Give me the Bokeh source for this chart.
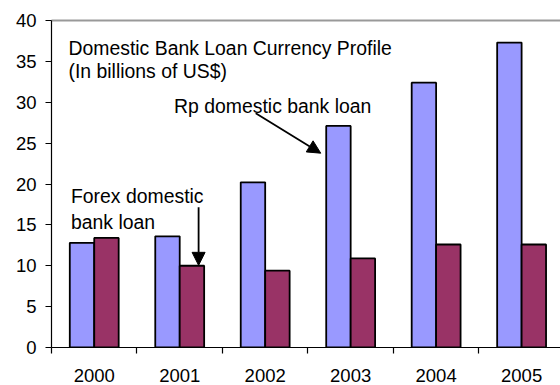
from bokeh.plotting import figure
from bokeh.models import (ColumnDataSource, FixedTicker, LinearAxis, Label, Arrow,
                          NormalHead, Range1d)
from bokeh.embed import file_html
from bokeh.resources import INLINE

years = ["2000", "2001", "2002", "2003", "2004", "2005"]
rp_loan = [12.8, 13.6, 20.2, 27.1, 32.4, 37.3]
forex_loan = [13.4, 10.0, 9.4, 10.9, 12.6, 12.6]
y_ticks = [0, 5, 10, 15, 20, 25, 30, 35, 40]

FONT = "Liberation Sans"
FS = "18.5px"
FS_NOTE = "19.4px"

idx = list(range(len(years)))
src = ColumnDataSource(dict(
    x_rp=[i - 0.143 for i in idx],
    x_fx=[i + 0.143 for i in idx],
    rp=rp_loan,
    fx=forex_loan,
))

p = figure(width=560, height=385, output_backend="svg", toolbar_location=None,
           x_range=Range1d(-0.5, 5.455), y_range=Range1d(0, 40),
           min_border_left=51, min_border_right=0, min_border_top=20,
           min_border_bottom=38, x_axis_type=None, y_axis_type=None)
p.xgrid.visible = False
p.ygrid.visible = False
p.outline_line_color = None
p.background_fill_color = "white"
p.border_fill_color = "white"

p.vbar(x="x_rp", top="rp", width=0.286, bottom=0, source=src,
       fill_color="#9999FF", line_color="black", line_width=1.8)
p.vbar(x="x_fx", top="fx", width=0.286, bottom=0, source=src,
       fill_color="#993366", line_color="black", line_width=1.8)

# x axis
xa = LinearAxis(ticker=FixedTicker(ticks=idx, minor_ticks=[i - 0.5 for i in idx] + [5.5]))
xa.major_label_overrides = {i: years[i] for i in idx}
xa.major_tick_out = 0
xa.major_tick_in = 0
xa.minor_tick_out = 6
xa.minor_tick_in = 0
xa.minor_tick_line_color = "black"
xa.minor_tick_line_width = 1.2
xa.axis_line_color = "black"
xa.axis_line_width = 1.2
xa.major_label_standoff = 15
xa.major_label_text_font = FONT
xa.major_label_text_font_size = FS
xa.major_label_text_color = "black"
p.add_layout(xa, "below")

# y axis
ya = LinearAxis(ticker=FixedTicker(ticks=y_ticks))
ya.major_tick_out = 6
ya.major_tick_in = 0
ya.minor_tick_out = 0
ya.minor_tick_in = 0
ya.major_tick_line_color = "black"
ya.major_tick_line_width = 1.2
ya.axis_line_color = "black"
ya.axis_line_width = 1.2
ya.major_label_standoff = 9
ya.major_label_text_font = FONT
ya.major_label_text_font_size = FS
ya.major_label_text_color = "black"
p.add_layout(ya, "left")

# top border
ta = LinearAxis(ticker=FixedTicker(ticks=[]))
ta.major_tick_out = 0
ta.major_tick_in = 0
ta.minor_tick_out = 0
ta.minor_tick_in = 0
ta.major_label_text_font_size = "0px"
ta.axis_line_color = "#999999"
ta.axis_line_width = 2
p.add_layout(ta, "above")

def lbl(x, y, t):
    p.add_layout(Label(x=x, y=y, text=t, text_font=FONT, text_font_size=FS_NOTE,
                       text_color="black", text_baseline="alphabetic",
                       text_align="left"))

lbl(-0.301, 36.61, "Domestic Bank Loan Currency Profile")
lbl(-0.301, 33.8, "(In billions of US$)")
lbl(0.934, 29.52, "Rp domestic bank loan")
lbl(-0.272, 18.51, "Forex domestic")
lbl(-0.272, 15.36, "bank loan")

p.add_layout(Arrow(x_start=1.889, y_start=28.66, x_end=2.65, y_end=23.77,
                   line_color="black", line_width=1.8,
                   end=NormalHead(size=13, fill_color="black", line_color="black")))
p.add_layout(Arrow(x_start=1.221, y_start=17.16, x_end=1.221, y_end=10.05,
                   line_color="black", line_width=1.8,
                   end=NormalHead(size=13, fill_color="black", line_color="black")))

open("out.html", "w").write(file_html(p, INLINE))
